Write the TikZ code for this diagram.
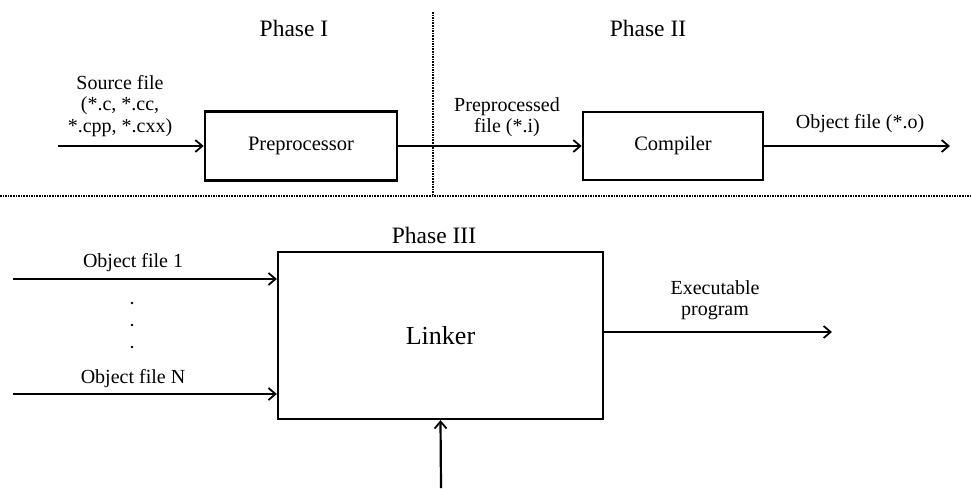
\documentclass[tikz,border=0pt]{standalone}
\usepackage{fontspec}
\setmainfont{Liberation Serif}
\usetikzlibrary{arrows.meta}
\begin{document}
\begin{tikzpicture}[x=1pt,y=-1pt,>={Straight Barb[length=7pt,width=12pt,line width=1.8pt]}]
		\tikzstyle{block}=[draw,line width=2.6pt,shape=rectangle,inner sep=0pt,font=\fontsize{20.5}{22}\selectfont]
		\tikzstyle{lbl}=[align=center,inner sep=0pt,font=\fontsize{20}{21.5}\selectfont]
		\tikzstyle{phase}=[inner sep=0pt,font=\fontsize{23.5}{26}\selectfont]
		\tikzstyle{flow}=[->,line width=2.2pt]
		\tikzstyle{sep}=[densely dotted,line width=1.6pt]
		\tikzstyle{dot}=[circle,fill,inner sep=0pt,minimum size=2.8pt]

		\useasboundingbox (0,0) rectangle (972,488);

		\node[phase](ph1) at (294,28){Phase I};
		\node[phase](ph2) at (648,28){Phase II};
		\node[phase](ph3) at (434,235){Phase III};

		\coordinate (vtop) at (433,12);
		\coordinate (vbot) at (433,195);
		\coordinate (hl) at (0,196);
		\coordinate (hr) at (972,196);
		\draw[sep] (vtop) -- (vbot);
		\draw[sep] (hl) -- (hr);

		\node[block,minimum width=192,minimum height=69](pre) at (301,146){Preprocessor};
		\node[block,minimum width=180,minimum height=68](comp) at (673,146){Compiler};
		\node[block,line width=2.3pt,minimum width=325,minimum height=167,font=\fontsize{26}{30}\selectfont](lnk) at (440.5,335.5){Linker};

		\coordinate (src) at (58,146);
		\coordinate (objo) at (950,146);
		\coordinate (in1) at (13,279);
		\coordinate (inN) at (13,394);
		\coordinate (exe) at (832,332);
		\coordinate (bot) at (441,488);

		\node[lbl](srclbl) at (120,106){Source file\\(*.c, *.cc,\\*.cpp, *.cxx)};
		\node[lbl](prelbl) at (507,117){Preprocessed\\file (*.i)};
		\node[lbl](objlbl) at (860,124){Object file (*.o)};
		\node[lbl](o1lbl) at (133,263){Object file 1};
		\node[lbl](oNlbl) at (133,379){Object file N};
		\node[lbl](exelbl) at (715,300){Executable\\program};

		\foreach \y/\n in {303/1,325/2,347/3}
			\node[dot](d\n) at (132,\y){};

		\draw[flow] (src) -- (pre.west);
		\draw[flow] (pre.east) -- (comp.west);
		\draw[flow] (comp.east) -- (objo);
		\draw[flow] (in1) -- (lnk.west |- in1);
		\draw[flow] (inN) -- (lnk.west |- inN);
		\draw[flow] (lnk.east |- exe) -- (exe);
		\draw[flow] (bot) -- (lnk.south);
\end{tikzpicture}
\end{document}
